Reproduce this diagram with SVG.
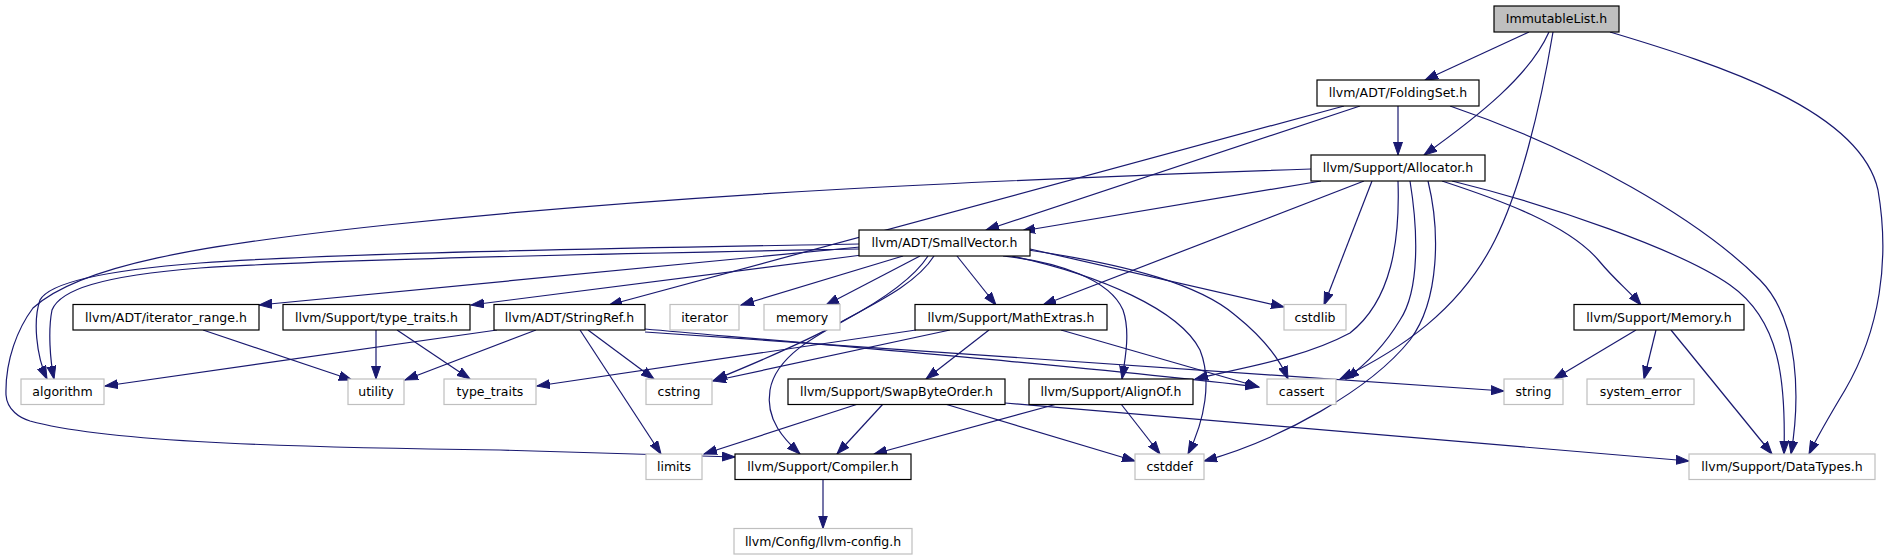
<svg xmlns="http://www.w3.org/2000/svg" width="1889" height="560" viewBox="0 0 1889 560">
<style>
.nd rect{fill:#ffffff;stroke:#000000;stroke-width:1.2}
.ud rect{fill:#ffffff;stroke:#bfbfbf;stroke-width:1.2}
.rt rect{fill:#bfbfbf;stroke:#000000;stroke-width:1.2}
text{font-family:"DejaVu Sans","Liberation Sans",sans-serif;font-size:12.5px;fill:#000000;text-anchor:middle}
#edges path{fill:none;stroke:#191970;stroke-width:1.2;marker-end:url(#ah)}
</style>
<defs>
<marker id="ah" markerUnits="userSpaceOnUse" markerWidth="14" markerHeight="10" refX="13" refY="5" orient="auto">
<path d="M0,0.5 L13,5 L0,9.5 z" fill="#191970" stroke="#191970" stroke-width="1"/>
</marker>
</defs>
<rect width="1889" height="560" fill="#ffffff"/>
<g id="edges">
<path d="M1529,32 L1425,80"/>
<path d="M1549,32 C1530,75 1480,115 1424,155"/>
<path d="M1553,32 C1540,110 1520,190 1495,240 C1460,310 1400,350 1340,379"/>
<path d="M1610,32 C1720,65 1860,110 1878,190 C1890,260 1880,330 1845,390 C1830,415 1818,435 1809,454"/>
<path d="M1360,106 L986,230"/>
<path d="M1344,106 L609,305"/>
<path d="M1398,106 L1398,155"/>
<path d="M1450,106 C1580,150 1700,220 1760,280 C1800,320 1800,400 1791,454"/>
<path d="M1311,169 C1000,180 700,192 387,225 C200,245 80,265 33,308 C18,328 5,360 6,395 C7,410 20,418 30,421 C100,440 250,447 500,450 L735,457"/>
<path d="M1321,181 L1022,231"/>
<path d="M1364,181 L1043,305"/>
<path d="M1372,181 L1324,305"/>
<path d="M1398,181 C1400,240 1392,300 1350,333 C1300,360 1230,370 1195,379"/>
<path d="M1410,181 C1418,230 1420,290 1400,320 C1385,345 1365,365 1346,379"/>
<path d="M1428,181 C1440,230 1440,300 1410,340 C1370,390 1280,440 1204,461"/>
<path d="M1442,181 C1500,200 1570,225 1600,262 C1615,280 1630,292 1641,305"/>
<path d="M1452,181 C1550,205 1680,250 1730,285 C1780,320 1786,380 1784,454"/>
<path d="M859,244 C700,247 350,252 200,263 C110,270 50,282 40,300 C33,320 36,355 47,379"/>
<path d="M859,249 C700,252 350,258 200,268 C100,276 60,290 52,310 C48,330 50,360 54,379"/>
<path d="M860,247 L259,305"/>
<path d="M862,255 L471,305"/>
<path d="M903,256 L741,305"/>
<path d="M920,256 L826,305"/>
<path d="M928,256 C900,300 800,345 714,380"/>
<path d="M934,256 C900,310 780,330 770,390 C765,420 785,440 800,454"/>
<path d="M957,256 L996,305"/>
<path d="M1003,256 C1060,262 1110,280 1123,310 C1130,330 1126,355 1122,379"/>
<path d="M1012,256 C1100,275 1180,310 1200,350 C1212,380 1205,420 1188,454"/>
<path d="M1028,250 C1130,265 1200,285 1235,315 C1260,335 1278,355 1288,379"/>
<path d="M1030,249 L1284,307"/>
<path d="M497,330 L105,386"/>
<path d="M536,330 L405,380"/>
<path d="M588,330 L654,379"/>
<path d="M580,330 L661,454"/>
<path d="M645,329 C850,347 1100,368 1258,387"/>
<path d="M645,332 C900,352 1200,372 1504,391"/>
<path d="M916,330 L537,386"/>
<path d="M950,330 L713,381"/>
<path d="M989,330 L926,379"/>
<path d="M1061,330 L1259,387"/>
<path d="M858,404 L704,454"/>
<path d="M883,404 L837,454"/>
<path d="M945,404 L1135,461"/>
<path d="M1005,403 L1689,461"/>
<path d="M1057,404 L874,454"/>
<path d="M1121,404 L1160,454"/>
<path d="M1636,330 L1554,379"/>
<path d="M1656,330 L1644,379"/>
<path d="M1671,330 L1772,454"/>
<path d="M203,330 L352,380"/>
<path d="M376,330 L376,379"/>
<path d="M397,330 L470,379"/>
<path d="M823,479.5 L823,528.5"/>
</g>
<g id="n_immutablelist" class="rt"><rect x="1494" y="6" width="125" height="26"/><text x="1556.5" y="23">ImmutableList.h</text></g>
<g id="n_foldingset" class="nd"><rect x="1317" y="80" width="162" height="26"/><text x="1398" y="97">llvm/ADT/FoldingSet.h</text></g>
<g id="n_allocator" class="nd"><rect x="1311" y="155" width="174" height="26"/><text x="1398" y="172">llvm/Support/Allocator.h</text></g>
<g id="n_smallvector" class="nd"><rect x="859" y="230" width="171" height="26"/><text x="944.5" y="247">llvm/ADT/SmallVector.h</text></g>
<g id="n_iterator_range" class="nd"><rect x="73" y="304.5" width="186" height="25.5"/><text x="166" y="321.5">llvm/ADT/iterator_range.h</text></g>
<g id="n_type_traits_h" class="nd"><rect x="283" y="304.5" width="187" height="25.5"/><text x="376.5" y="321.5">llvm/Support/type_traits.h</text></g>
<g id="n_stringref" class="nd"><rect x="494" y="304.5" width="151" height="25.5"/><text x="569.5" y="321.5">llvm/ADT/StringRef.h</text></g>
<g id="n_iterator" class="ud"><rect x="670" y="304.5" width="69" height="25.5"/><text x="704.5" y="321.5">iterator</text></g>
<g id="n_memory" class="ud"><rect x="764" y="304.5" width="76" height="25.5"/><text x="802" y="321.5">memory</text></g>
<g id="n_mathextras" class="nd"><rect x="915" y="304.5" width="192" height="25.5"/><text x="1011" y="321.5">llvm/Support/MathExtras.h</text></g>
<g id="n_cstdlib" class="ud"><rect x="1284" y="304.5" width="62" height="25.5"/><text x="1315" y="321.5">cstdlib</text></g>
<g id="n_memory_h" class="nd"><rect x="1574" y="304.5" width="170" height="25.5"/><text x="1659" y="321.5">llvm/Support/Memory.h</text></g>
<g id="n_algorithm" class="ud"><rect x="21" y="379" width="83" height="25.5"/><text x="62.5" y="396">algorithm</text></g>
<g id="n_utility" class="ud"><rect x="348" y="379" width="56" height="25.5"/><text x="376" y="396">utility</text></g>
<g id="n_type_traits" class="ud"><rect x="444" y="379" width="92" height="25.5"/><text x="490" y="396">type_traits</text></g>
<g id="n_cstring" class="ud"><rect x="646" y="379" width="66" height="25.5"/><text x="679" y="396">cstring</text></g>
<g id="n_swapbyteorder" class="nd"><rect x="788" y="379" width="217" height="25.5"/><text x="896.5" y="396">llvm/Support/SwapByteOrder.h</text></g>
<g id="n_alignof" class="nd"><rect x="1029" y="379" width="164" height="25.5"/><text x="1111" y="396">llvm/Support/AlignOf.h</text></g>
<g id="n_cassert" class="ud"><rect x="1267" y="379" width="69" height="25.5"/><text x="1301.5" y="396">cassert</text></g>
<g id="n_string" class="ud"><rect x="1504" y="379" width="59" height="25.5"/><text x="1533.5" y="396">string</text></g>
<g id="n_system_error" class="ud"><rect x="1587" y="379" width="107" height="25.5"/><text x="1640.5" y="396">system_error</text></g>
<g id="n_limits" class="ud"><rect x="646" y="454" width="56" height="25.5"/><text x="674" y="471">limits</text></g>
<g id="n_compiler" class="nd"><rect x="735" y="454" width="176" height="25.5"/><text x="823" y="471">llvm/Support/Compiler.h</text></g>
<g id="n_cstddef" class="ud"><rect x="1135" y="454" width="69" height="25.5"/><text x="1169.5" y="471">cstddef</text></g>
<g id="n_datatypes" class="ud"><rect x="1689" y="454" width="186" height="25.5"/><text x="1782" y="471">llvm/Support/DataTypes.h</text></g>
<g id="n_llvm_config" class="ud"><rect x="734" y="528.5" width="178" height="25.5"/><text x="823" y="545.5">llvm/Config/llvm-config.h</text></g>
</svg>
